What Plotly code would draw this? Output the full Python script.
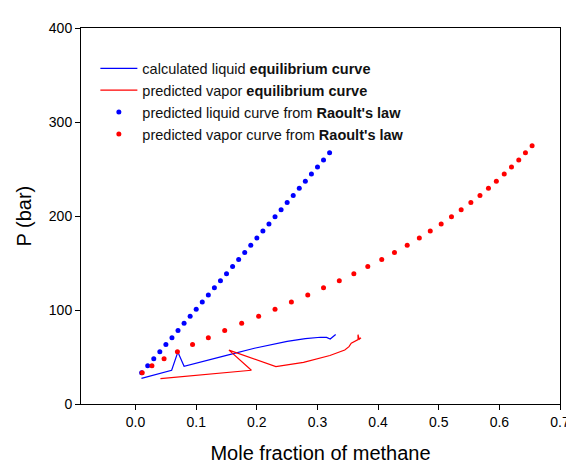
import plotly.graph_objects as go

# Raoult's law predictions (same pressure levels for liquid and vapor)
raoult_P = [33.2, 40.6, 48.2, 55.6, 63.2, 70.6, 78.2, 85.8, 93.3, 100.8,
            108.5, 116.0, 123.6, 131.1, 138.6, 146.2, 153.8, 161.3, 168.9, 176.5,
            184.0, 191.6, 199.2, 206.7, 214.3, 221.8, 229.4, 237.0, 244.6, 252.1,
            259.7, 267.2, 274.7]
# liquid points above ~267 bar are hidden behind the legend in the original
raoult_liq_x = [0.01, 0.02, 0.03, 0.04, 0.05, 0.06, 0.07, 0.08, 0.09, 0.10,
                0.11, 0.12, 0.13, 0.14, 0.15, 0.16, 0.17, 0.18, 0.19, 0.20,
                0.21, 0.22, 0.23, 0.24, 0.25, 0.26, 0.27, 0.28, 0.29, 0.30,
                0.31, 0.32]
raoult_vap_x = [0.011, 0.027, 0.047, 0.069, 0.094, 0.120, 0.147, 0.175, 0.203, 0.230,
                0.257, 0.284, 0.310, 0.336, 0.360, 0.383, 0.406, 0.427, 0.448, 0.468,
                0.486, 0.504, 0.521, 0.537, 0.553, 0.568, 0.582, 0.595, 0.608, 0.620,
                0.632, 0.643, 0.654]

# Calculated liquid equilibrium curve
liq_x = [0.0097, 0.0595, 0.0697, 0.080, 0.150, 0.196, 0.250, 0.280, 0.305, 0.315, 0.321, 0.330]
liq_P = [27.2, 35.9, 55.2, 40.1, 51.8, 59.3, 66.6, 69.6, 71.0, 70.8, 69.1, 74.0]

# Predicted vapor equilibrium curve
vap_x = [0.041, 0.191, 0.154, 0.2314, 0.277, 0.3205, 0.345, 0.352, 0.3557, 0.3637, 0.367, 0.3668, 0.369, 0.3718]
vap_P = [26.9, 35.9, 57.3, 39.8, 44.3, 51.6, 57.5, 61.0, 64.6, 67.3, 68.5, 73.8, 69.0, 70.5]

x_ticks = [0.0, 0.1, 0.2, 0.3, 0.4, 0.5, 0.6, 0.7]
y_ticks = [0, 100, 200, 300, 400]

FONT = "Arial, Liberation Sans, sans-serif"

fig = go.Figure()
fig.add_trace(go.Scatter(x=liq_x, y=liq_P, mode="lines",
                         line=dict(color="blue", width=1.2),
                         name="calculated liquid <b>equilibrium curve</b>", legendgroup="a"))
fig.add_trace(go.Scatter(x=vap_x, y=vap_P, mode="lines",
                         line=dict(color="red", width=1.2),
                         name="predicted vapor <b>equilibrium curve</b>", legendgroup="b"))
fig.add_trace(go.Scatter(x=raoult_liq_x, y=raoult_P[:len(raoult_liq_x)], mode="markers",
                         marker=dict(color="blue", size=5),
                         name="predicted liquid curve from <b>Raoult's law</b>", legendgroup="c"))
fig.add_trace(go.Scatter(x=raoult_vap_x, y=raoult_P, mode="markers",
                         marker=dict(color="red", size=5),
                         name="predicted vapor curve from <b>Raoult's law</b>", legendgroup="d"))

fig.update_layout(
    width=574, height=465,
    margin=dict(l=73, r=13, t=19, b=64),
    paper_bgcolor="white", plot_bgcolor="white",
    font=dict(family=FONT, color="black", size=14),
    showlegend=True,
    legend=dict(x=0.03, y=0.935, xanchor="left", yanchor="top",
                bgcolor="white", borderwidth=0, itemwidth=37,
                font=dict(family=FONT, size=14.5, color="#111"),
                tracegroupgap=0),
    annotations=[dict(text="P (bar)", textangle=-90, xref="paper", yref="paper",
                      x=-0.118, y=0.5, xanchor="center", yanchor="middle",
                      showarrow=False, font=dict(size=20, family=FONT))],
)
fig.update_xaxes(range=[-0.09, 0.7], tickvals=x_ticks,
                 ticktext=[f"{v:.1f}" for v in x_ticks],
                 showgrid=False, zeroline=False,
                 showline=True, linecolor="black", linewidth=1, mirror=True,
                 ticks="outside", ticklen=5, tickcolor="black",
                 tickfont=dict(size=14),
                 title=dict(text="Mole fraction of methane", font=dict(size=20), standoff=17))
fig.update_yaxes(range=[0, 400], tickvals=y_ticks,
                 showgrid=False, zeroline=False,
                 showline=True, linecolor="black", linewidth=1, mirror=True,
                 ticks="outside", ticklen=5, tickcolor="black",
                 tickfont=dict(size=14))

fig.write_html("out.html")
